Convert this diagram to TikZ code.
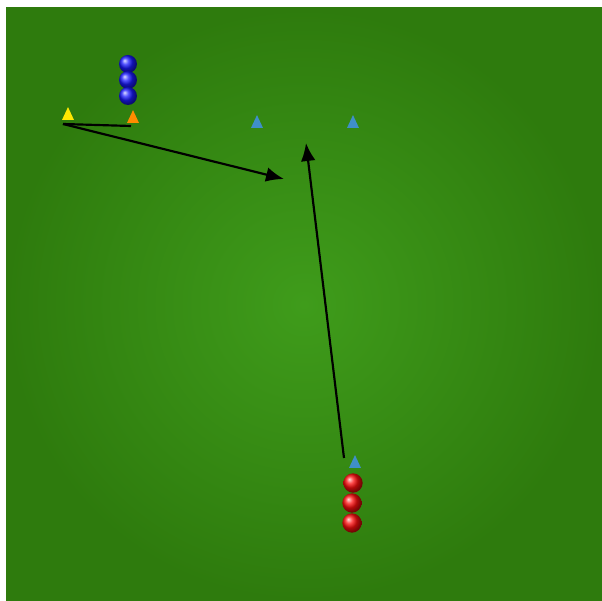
\documentclass[tikz,border=0pt]{standalone}
\usetikzlibrary{positioning,calc,shapes.geometric,arrows.meta}

\definecolor{pitch}{HTML}{3F9C1B}
\definecolor{pitchdark}{HTML}{2E7B0D}
\definecolor{conecyan}{HTML}{3F8FC8}

\begin{document}
\begin{tikzpicture}[x=0.03cm, y=-0.03cm,
    cone/.style={isosceles triangle, isosceles triangle apex angle=50, shape border rotate=90,
      inner sep=0pt, minimum height=3.8mm, minimum width=3mm, draw=none},
    player/.style={circle, inner sep=0pt, minimum size=5.4mm, shading=ball},
    run/.style={-{Latex[length=5.4mm,width=4.4mm]}, line width=0.65mm, black}]
  \useasboundingbox (0,0) rectangle (602,601);
  \fill[white] (0,0) rectangle (602,601);
  \shade[inner color=pitch, outer color=pitchdark] (6,8) rectangle (602,601);

  % cones
  \node[cone, fill=yellow!90!orange] (yellow) at (68,116) {};
  \node[cone, fill=orange!90!yellow] (orange) at (133,119) {};
  \node[cone, fill=conecyan] (gateL) at (257,124) {};
  \node[cone, fill=conecyan] (gateR) at (353,124) {};
  \node[cone, fill=conecyan] (start) at (355,464) {};

  % players
  \node[player, ball color=blue!90!white] (b1) at (128,64) {};
  \node[player, ball color=blue!90!white] (b2) at (128,80) {};
  \node[player, ball color=blue!90!white] (b3) at (128,96) {};
  \node[player, ball color=red!95!white, minimum size=5.8mm] (r1) at (353,483) {};
  \node[player, ball color=red!95!white, minimum size=5.8mm] (r2) at (352,503) {};
  \node[player, ball color=red!95!white, minimum size=5.8mm] (r3) at (352,523) {};

  % runs
  \coordinate (pass) at (63,124);
  \coordinate (target) at (284,179);
  \coordinate (top) at (306,143);
  \coordinate (foot) at (344,458);
  \draw[line width=0.65mm, black] (pass) -- ($(orange.south)+(-2,3)$);
  \draw[run] (pass) -- (target);
  \draw[run] (foot) -- (top);
\end{tikzpicture}
\end{document}
